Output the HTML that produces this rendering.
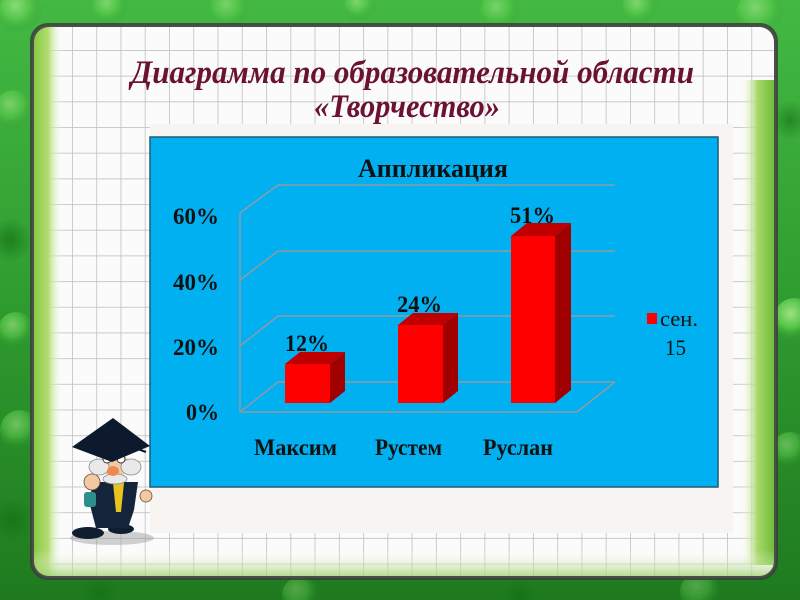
<!DOCTYPE html>
<html><head><meta charset="utf-8"><style>
html,body{margin:0;padding:0;width:800px;height:600px;overflow:hidden;background:#2e9a2e}
svg{display:block}
</style></head><body>
<svg width="800" height="600" viewBox="0 0 800 600" xmlns="http://www.w3.org/2000/svg">
<defs>
  <linearGradient id="bg" x1="0" y1="0" x2="0" y2="1">
    <stop offset="0" stop-color="#43b943"/>
    <stop offset="0.5" stop-color="#2f9c2f"/>
    <stop offset="1" stop-color="#1f7a1f"/>
  </linearGradient>
  <radialGradient id="bub" cx="0.4" cy="0.35" r="0.65">
    <stop offset="0" stop-color="#b8f29a"/>
    <stop offset="0.5" stop-color="#5fcf4f"/>
    <stop offset="1" stop-color="#2a8f2a" stop-opacity="0"/>
  </radialGradient>
  <radialGradient id="bubd" cx="0.5" cy="0.5" r="0.5">
    <stop offset="0" stop-color="#137013"/>
    <stop offset="1" stop-color="#137013" stop-opacity="0"/>
  </radialGradient>
  <pattern id="grid" x="72" y="50" width="24.26" height="25.68" patternUnits="userSpaceOnUse">
    <rect width="24.26" height="25.68" fill="#fbfbfb"/>
    <line x1="0" y1="0" x2="24.26" y2="0" stroke="#c3c3c3" stroke-width="1.7"/>
    <line x1="0" y1="0" x2="0" y2="25.68" stroke="#c3c3c3" stroke-width="1.7"/>
  </pattern>
  <linearGradient id="lstrip" x1="0" y1="0" x2="1" y2="0">
    <stop offset="0" stop-color="#86c83e"/>
    <stop offset="0.5" stop-color="#b2dc72"/>
    <stop offset="1" stop-color="#ffffff" stop-opacity="0"/>
  </linearGradient>
  <linearGradient id="rstrip" x1="0" y1="0" x2="1" y2="0">
    <stop offset="0" stop-color="#ffffff" stop-opacity="0"/>
    <stop offset="0.5" stop-color="#a6d86a"/>
    <stop offset="1" stop-color="#6dbb35"/>
  </linearGradient>
  <linearGradient id="bstrip" x1="0" y1="0" x2="0" y2="1">
    <stop offset="0" stop-color="#ffffff" stop-opacity="0"/>
    <stop offset="1" stop-color="#9ccf6a" stop-opacity="0.8"/>
  </linearGradient>
  <clipPath id="paperclip"><rect x="33" y="26" width="742" height="551" rx="16"/></clipPath>
</defs>

<!-- green background -->
<rect width="800" height="600" fill="url(#bg)"/>
<g>
  <circle cx="20" cy="12" r="22" fill="url(#bub)" opacity="0.6"/>
  <circle cx="110" cy="8" r="18" fill="url(#bub)" opacity="0.5"/>
  <circle cx="230" cy="10" r="20" fill="url(#bub)" opacity="0.45"/>
  <circle cx="360" cy="6" r="16" fill="url(#bub)" opacity="0.5"/>
  <circle cx="500" cy="12" r="20" fill="url(#bub)" opacity="0.45"/>
  <circle cx="640" cy="8" r="18" fill="url(#bub)" opacity="0.5"/>
  <circle cx="760" cy="14" r="24" fill="url(#bub)" opacity="0.5"/>
  <circle cx="14" cy="110" r="20" fill="url(#bub)" opacity="0.5"/>
  <circle cx="10" cy="240" r="22" fill="url(#bubd)" opacity="0.7"/>
  <circle cx="16" cy="330" r="18" fill="url(#bub)" opacity="0.55"/>
  <circle cx="20" cy="430" r="20" fill="url(#bub)" opacity="0.5"/>
  <circle cx="12" cy="520" r="22" fill="url(#bubd)" opacity="0.7"/>
  <circle cx="790" cy="120" r="20" fill="url(#bubd)" opacity="0.6"/>
  <circle cx="795" cy="320" r="22" fill="url(#bub)" opacity="0.8"/>
  <circle cx="790" cy="450" r="18" fill="url(#bub)" opacity="0.45"/>
  <circle cx="100" cy="592" r="18" fill="url(#bubd)" opacity="0.7"/>
  <circle cx="300" cy="595" r="18" fill="url(#bub)" opacity="0.35"/>
  <circle cx="520" cy="595" r="18" fill="url(#bubd)" opacity="0.7"/>
  <circle cx="700" cy="592" r="20" fill="url(#bub)" opacity="0.35"/>
</g>

<!-- paper frame -->
<rect x="30" y="23" width="748" height="557" rx="18" fill="#3a3f3a" opacity="0.85"/>
<rect x="33" y="26" width="742" height="551" rx="16" fill="url(#grid)"/>
<g clip-path="url(#paperclip)">
  <rect x="33" y="26" width="30" height="551" fill="url(#lstrip)"/>
  <rect x="740" y="80" width="35" height="485" fill="url(#rstrip)"/>
  <rect x="33" y="550" width="742" height="27" fill="url(#bstrip)"/>
</g>
<rect x="33" y="26" width="742" height="551" rx="16" fill="none" stroke="#4a4f4a" stroke-width="2"/>

<!-- main title -->
<g font-family="'Liberation Serif', 'Noto Serif CJK SC', serif" font-weight="bold" font-style="italic" fill="#6b1232" font-size="33">
  <text x="131" y="83" textLength="563" lengthAdjust="spacingAndGlyphs">Диаграмма по образовательной области</text>
  <text x="314" y="117" textLength="186" lengthAdjust="spacingAndGlyphs">«Творчество»</text>
</g>

<!-- off-white panel -->
<rect x="150" y="124" width="583" height="409" fill="#f8f4f1"/>
<!-- blue chart -->
<rect x="150" y="137" width="568" height="350" fill="#00b0f0" stroke="#1d5c75" stroke-width="1.5"/>

<!-- chart title -->
<text x="358" y="177" font-family="'Liberation Serif', serif" font-weight="bold" font-size="26" fill="#111" textLength="150" lengthAdjust="spacingAndGlyphs">Аппликация</text>

<!-- 3D grid -->
<g stroke="#8f9aa3" stroke-width="1.5" fill="none">
  <line x1="278" y1="185" x2="615" y2="185"/>
  <line x1="278" y1="251" x2="615" y2="251"/>
  <line x1="278" y1="316" x2="615" y2="316"/>
  <line x1="278" y1="382" x2="615" y2="382"/>
  <line x1="240" y1="213" x2="278" y2="185"/>
  <line x1="240" y1="280" x2="278" y2="251"/>
  <line x1="240" y1="346" x2="278" y2="316"/>
  <line x1="240" y1="412" x2="278" y2="382"/>
  <line x1="240" y1="213" x2="240" y2="412"/>
  <line x1="240" y1="412" x2="577" y2="412"/>
  <line x1="577" y1="412" x2="615" y2="382"/>
</g>

<!-- bars -->
<g>
  <polygon points="285,364 330,364 345,352 300,352" fill="#c00000"/>
  <polygon points="330,364 345,352 345,391 330,403" fill="#a00000"/>
  <rect x="285" y="364" width="45" height="39" fill="#ff0000"/>
  <polygon points="398,325 443,325 458,313 413,313" fill="#c00000"/>
  <polygon points="443,325 458,313 458,391 443,403" fill="#a00000"/>
  <rect x="398" y="325" width="45" height="78" fill="#ff0000"/>
  <polygon points="511,236 555,236 571,223 527,223" fill="#c00000"/>
  <polygon points="555,236 571,223 571,390 555,403" fill="#a00000"/>
  <rect x="511" y="236" width="44" height="167" fill="#ff0000"/>
</g>

<!-- data labels -->
<g font-family="'Liberation Serif', serif" font-weight="bold" font-size="23" fill="#111">
  <text x="285" y="351" textLength="44" lengthAdjust="spacingAndGlyphs">12%</text>
  <text x="397" y="312" textLength="45" lengthAdjust="spacingAndGlyphs">24%</text>
  <text x="510" y="223" textLength="45" lengthAdjust="spacingAndGlyphs">51%</text>
</g>

<!-- y axis labels -->
<g font-family="'Liberation Serif', serif" font-weight="bold" font-size="23" fill="#111">
  <text x="173" y="224" textLength="46" lengthAdjust="spacingAndGlyphs">60%</text>
  <text x="173" y="290" textLength="46" lengthAdjust="spacingAndGlyphs">40%</text>
  <text x="173" y="355" textLength="46" lengthAdjust="spacingAndGlyphs">20%</text>
  <text x="186" y="420" textLength="33" lengthAdjust="spacingAndGlyphs">0%</text>
</g>

<!-- category labels -->
<g font-family="'Liberation Serif', serif" font-weight="bold" font-size="23" fill="#111">
  <text x="254" y="455" textLength="83" lengthAdjust="spacingAndGlyphs">Максим</text>
  <text x="375" y="455" textLength="67" lengthAdjust="spacingAndGlyphs">Рустем</text>
  <text x="483" y="455" textLength="70" lengthAdjust="spacingAndGlyphs">Руслан</text>
</g>

<!-- legend -->
<rect x="647" y="313" width="10" height="11" fill="#ff0000"/>
<g font-family="'Liberation Serif', serif" font-size="22" fill="#111">
  <text x="660" y="326" textLength="38" lengthAdjust="spacingAndGlyphs">сен.</text>
  <text x="665" y="355" textLength="21" lengthAdjust="spacingAndGlyphs">15</text>
</g>

<!-- professor cartoon -->
<g>
  <ellipse cx="112" cy="538" rx="42" ry="7" fill="#9a9a9a" opacity="0.45"/>
  <ellipse cx="88" cy="533" rx="16" ry="6" fill="#0f1e30"/>
  <ellipse cx="121" cy="529" rx="13" ry="5" fill="#0f1e30"/>
  <path d="M92,482 L138,482 L134,510 L128,528 L96,528 L90,505 Z" fill="#14243a"/>
  <polygon points="113,483 124,483 121,512 116,512" fill="#e8c21e"/>
  <circle cx="92" cy="482" r="8" fill="#f1c9a3" stroke="#6b4a30" stroke-width="0.8"/>
  <rect x="84" y="492" width="12" height="15" rx="3" fill="#2e8f8a"/>
  <circle cx="146" cy="496" r="6" fill="#f1c9a3" stroke="#6b4a30" stroke-width="0.8"/>
  <ellipse cx="115" cy="465" rx="14" ry="12" fill="#f2c9a0"/>
  <ellipse cx="99" cy="467" rx="10" ry="8" fill="#e9e9e9" stroke="#8a8a8a" stroke-width="0.8"/>
  <ellipse cx="131" cy="467" rx="10" ry="8" fill="#e9e9e9" stroke="#8a8a8a" stroke-width="0.8"/>
  <ellipse cx="115" cy="479" rx="12" ry="5" fill="#e9e9e9" stroke="#8a8a8a" stroke-width="0.8"/>
  <ellipse cx="113" cy="471" rx="6" ry="5" fill="#ee8a50"/>
  <circle cx="107" cy="459" r="4" fill="#fff" stroke="#333" stroke-width="1"/>
  <circle cx="121" cy="459" r="4" fill="#fff" stroke="#333" stroke-width="1"/>
  <polygon points="72,447 113,418 150,446 112,462" fill="#0d1a2e"/>
  <line x1="113" y1="440" x2="146" y2="452" stroke="#0d1a2e" stroke-width="2"/>
</g>
</svg>
</body></html>
